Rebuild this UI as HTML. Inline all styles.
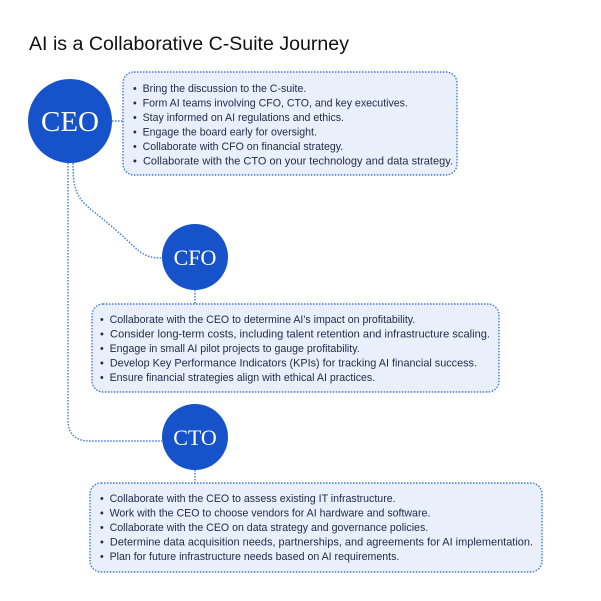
<!DOCTYPE html>
<html><head><meta charset="utf-8"><style>
html,body{margin:0;padding:0;background:#fff;}
svg{display:block;}
text{font-family:"Liberation Sans",sans-serif;}
.t{font-size:10.6px;fill:#1e2a46;}
.c{font-family:"Liberation Serif",serif;fill:#fff;text-anchor:middle;}
</style></head><body>
<svg width="601" height="601" viewBox="0 0 601 601" xmlns="http://www.w3.org/2000/svg">
<rect width="601" height="601" fill="#fff"/>
<text x="29" y="50" font-size="19" fill="#111" textLength="320" lengthAdjust="spacingAndGlyphs">AI is a Collaborative C-Suite Journey</text>
<g fill="none" stroke="#3f78dc" stroke-width="1.4" stroke-dasharray="1.5 1.5">
<path d="M112 121 H123"/>
<path d="M73 163 C73 200 80 200 110 225 C140 250 140 258 162 258"/>
<path d="M68 163 V420 Q68 441 90 441 H162"/>
<path d="M195 290 V304"/>
<path d="M195 470 V483"/>
<rect x="123" y="72" width="334" height="103" rx="11" fill="#e9f0fc"/>
<rect x="92" y="304" width="407" height="88" rx="11" fill="#e9f0fc"/>
<rect x="90" y="483" width="452" height="89" rx="11" fill="#e9f0fc"/>
</g>
<circle cx="70" cy="121" r="42" fill="#1652c9"/>
<circle cx="195" cy="257" r="33" fill="#1652c9"/>
<circle cx="195" cy="437" r="33" fill="#1652c9"/>
<text class="c" x="70" y="131" font-size="29">CEO</text>
<text class="c" x="195" y="265" font-size="22">CFO</text>
<text class="c" x="195" y="445" font-size="22">CTO</text>
<g class="t">
<text x="133" y="92">•&#160; Bring the discussion to the C-suite.</text>
<text x="133" y="106.5">•&#160; Form AI teams involving CFO, CTO, and key executives.</text>
<text x="133" y="121">•&#160; Stay informed on AI regulations and ethics.</text>
<text x="133" y="135.5">•&#160; Engage the board early for oversight.</text>
<text x="133" y="150">•&#160; Collaborate with CFO on financial strategy.</text>
<text x="133" y="164.5" textLength="320" lengthAdjust="spacingAndGlyphs">•&#160; Collaborate with the CTO on your technology and data strategy.</text>

<text x="100" y="323">•&#160; Collaborate with the CEO to determine AI's impact on profitability.</text>
<text x="100" y="337.5" textLength="390" lengthAdjust="spacingAndGlyphs">•&#160; Consider long-term costs, including talent retention and infrastructure scaling.</text>
<text x="100" y="352">•&#160; Engage in small AI pilot projects to gauge profitability.</text>
<text x="100" y="366.5" textLength="377" lengthAdjust="spacingAndGlyphs">•&#160; Develop Key Performance Indicators (KPIs) for tracking AI financial success.</text>
<text x="100" y="381">•&#160; Ensure financial strategies align with ethical AI practices.</text>

<text x="100" y="502">•&#160; Collaborate with the CEO to assess existing IT infrastructure.</text>
<text x="100" y="516.5">•&#160; Work with the CEO to choose vendors for AI hardware and software.</text>
<text x="100" y="531">•&#160; Collaborate with the CEO on data strategy and governance policies.</text>
<text x="100" y="545.5" textLength="433" lengthAdjust="spacingAndGlyphs">•&#160; Determine data acquisition needs, partnerships, and agreements for AI implementation.</text>
<text x="100" y="560">•&#160; Plan for future infrastructure needs based on AI requirements.</text>
</g>
</svg>
</body></html>
